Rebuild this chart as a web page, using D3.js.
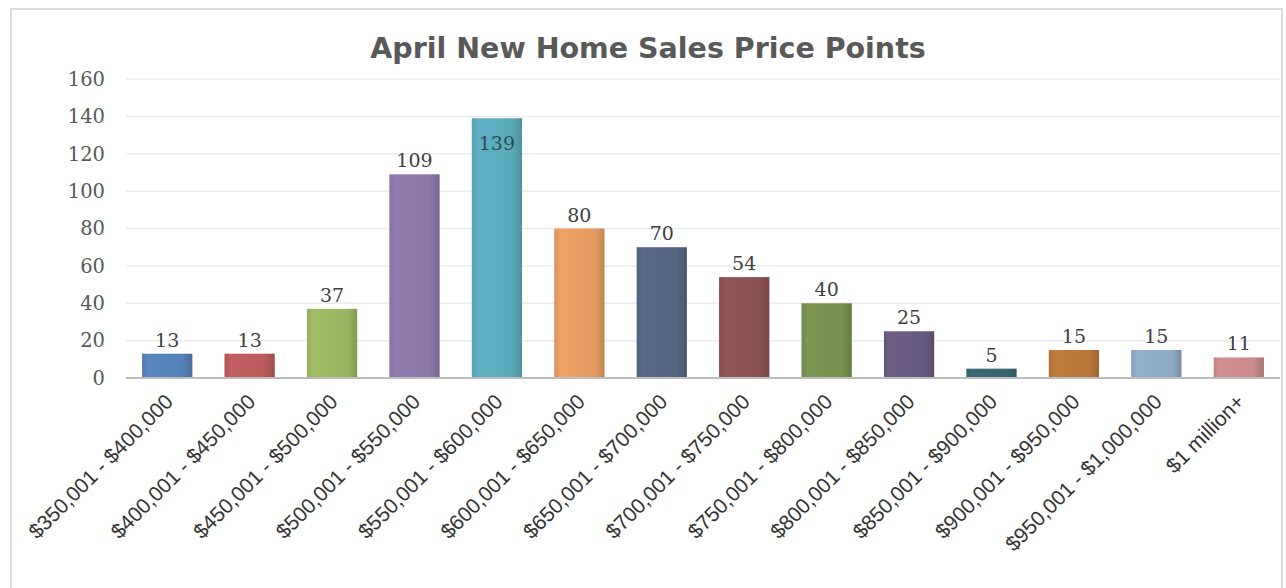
<!DOCTYPE html>
<html><head><meta charset="utf-8">
<script src="https://cdn.jsdelivr.net/npm/d3@7"></script>
<style>body{margin:0;background:#fff;}svg{display:block;}</style>
</head><body>
<svg id="c" width="1286" height="588"></svg>
<script>
const categories = ["$350,001 - $400,000","$400,001 - $450,000","$450,001 - $500,000","$500,001 - $550,000","$550,001 - $600,000","$600,001 - $650,000","$650,001 - $700,000","$700,001 - $750,000","$750,001 - $800,000","$800,001 - $850,000","$850,001 - $900,000","$900,001 - $950,000","$950,001 - $1,000,000","$1 million+"];
const values = [13,13,37,109,139,80,70,54,40,25,5,15,15,11];
const colors = ["#5480b6","#b95a5a","#9ab562","#8c78a9","#5aaabb","#e49b62","#546682","#8b5252","#78904f","#675a7f","#386670","#b7783a","#8ea8c6","#c98a8a"];
const yTicks = [0,20,40,60,80,100,120,140,160];
const title = "April New Home Sales Price Points";

const svg = d3.select("#c");
svg.append("rect").attr("x",11).attr("y",9).attr("width",1271).attr("height",590)
  .attr("fill","#fff").attr("stroke","#dcdcdc").attr("stroke-width",2);

const x = d3.scaleBand().domain(categories).range([126,1280]).paddingInner(0.39).paddingOuter(0.195);
const y = d3.scaleLinear().domain([0,160]).range([378,79]);

const defs = svg.append("defs");
colors.forEach((c,i)=>{
  const g = defs.append("linearGradient").attr("id","g"+i).attr("x1","0").attr("x2","1").attr("y1","0").attr("y2","0");
  const base = d3.color(c);
  g.append("stop").attr("offset","0%").attr("stop-color",base.darker(0.15));
  g.append("stop").attr("offset","12%").attr("stop-color",base.brighter(0.12));
  g.append("stop").attr("offset","80%").attr("stop-color",base);
  g.append("stop").attr("offset","100%").attr("stop-color",base.darker(0.45));
});

// gridlines
svg.append("g").selectAll("line").data(yTicks.filter(d=>d>0)).join("line")
  .attr("x1",126).attr("x2",1280).attr("y1",d=>y(d)).attr("y2",d=>y(d))
  .attr("stroke","#ececec").attr("stroke-width",1.5);

// y axis labels
const ya = svg.append("g").attr("transform","translate(105,0)")
  .call(d3.axisLeft(y).tickValues(yTicks).tickSize(0).tickPadding(0));
ya.select(".domain").remove();
ya.selectAll("text").attr("font-family","'DejaVu Serif', serif").attr("font-size",19.5).attr("fill","#595959");

// bars
svg.append("g").selectAll("rect").data(values).join("rect")
  .attr("x",(d,i)=>x(categories[i])).attr("width",x.bandwidth())
  .attr("y",d=>y(d)).attr("height",d=>y(0)-y(d))
  .attr("fill",(d,i)=>"url(#g"+i+")");

// axis line
svg.append("line").attr("x1",126).attr("x2",1280).attr("y1",y(0)).attr("y2",y(0))
  .attr("stroke","#bdbdbd").attr("stroke-width",2);

// data labels
svg.append("g").selectAll("text").data(values).join("text")
  .attr("x",(d,i)=>x(categories[i])+x.bandwidth()/2)
  .attr("y",d=> d>130 ? y(d)+32 : y(d)-7)
  .attr("text-anchor","middle")
  .attr("font-family","'DejaVu Serif', serif").attr("font-size",19)
  .attr("fill",d=> d>130 ? "#2f4a55" : "#404040")
  .text(d=>d);

// x labels
const xa = svg.append("g").attr("transform","translate(0,"+y(0)+")")
  .call(d3.axisBottom(x).tickSize(0).tickPadding(0));
xa.select(".domain").remove();
xa.selectAll("text")
  .attr("font-family","'Liberation Sans', Arial, sans-serif").attr("font-size",21).attr("fill","#333")
  .attr("text-anchor","end").attr("dy",null).attr("y",0)
  .attr("transform","translate(7,25) rotate(-45)");

// title
svg.append("text").attr("x",648).attr("y",58).attr("text-anchor","middle")
  .attr("font-family","'DejaVu Sans', Verdana, sans-serif").attr("font-weight","bold")
  .attr("font-size",28.5).attr("fill","#595959").text(title);
</script>
</body></html>
